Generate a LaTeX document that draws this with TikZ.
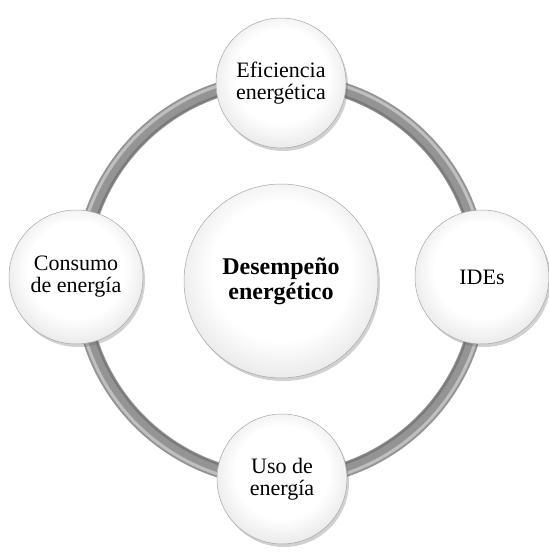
\documentclass[tikz,border=0pt]{standalone}
\usepackage{fontspec}
\setmainfont{Liberation Serif}
\usetikzlibrary{shadows}
\pgfdeclareradialshading{bubble}{\pgfpoint{0bp}{4bp}}{color(0bp)=(white); color(18bp)=(white);
  color(29bp)=(black!10); color(34bp)=(black!24); color(37bp)=(black!40); color(50bp)=(black!40)}
\begin{document}
\begin{tikzpicture}[x=1pt, y=-1pt]
\tikzset{ball/.style={circle, inner sep=0pt, align=center, draw=black!35, line width=0.5pt,
  shading=bubble,
  drop shadow={shadow xshift=2pt, shadow yshift=-3pt, opacity=.3, fill=black!60},
  font=\fontsize{22}{22}\selectfont}}
\useasboundingbox (0,0) rectangle (549,552);
% ring
\draw [black!42, line width=15pt] (281,280) circle (200);
\draw [black!25, line width=3pt] (281,280) circle (204);
\draw [black!52, line width=2pt] (281,280) circle (194.5);
\node [ball, minimum size=194pt, font=\fontsize{24}{25}\selectfont\bfseries] (desemp) at (281,281) {Desempeño\\energético};
\node [ball, minimum size=130pt] (efic) at (281,83) {Eficiencia\\energética};
\node [ball, minimum size=134pt] (ides) at (482,277) {IDEs};
\node [ball, minimum size=130pt] (uso) at (282,479) {Uso de\\energía};
\node [ball, minimum size=134pt] (consumo) at (76,277) {Consumo\\de energía};
\end{tikzpicture}
\end{document}
